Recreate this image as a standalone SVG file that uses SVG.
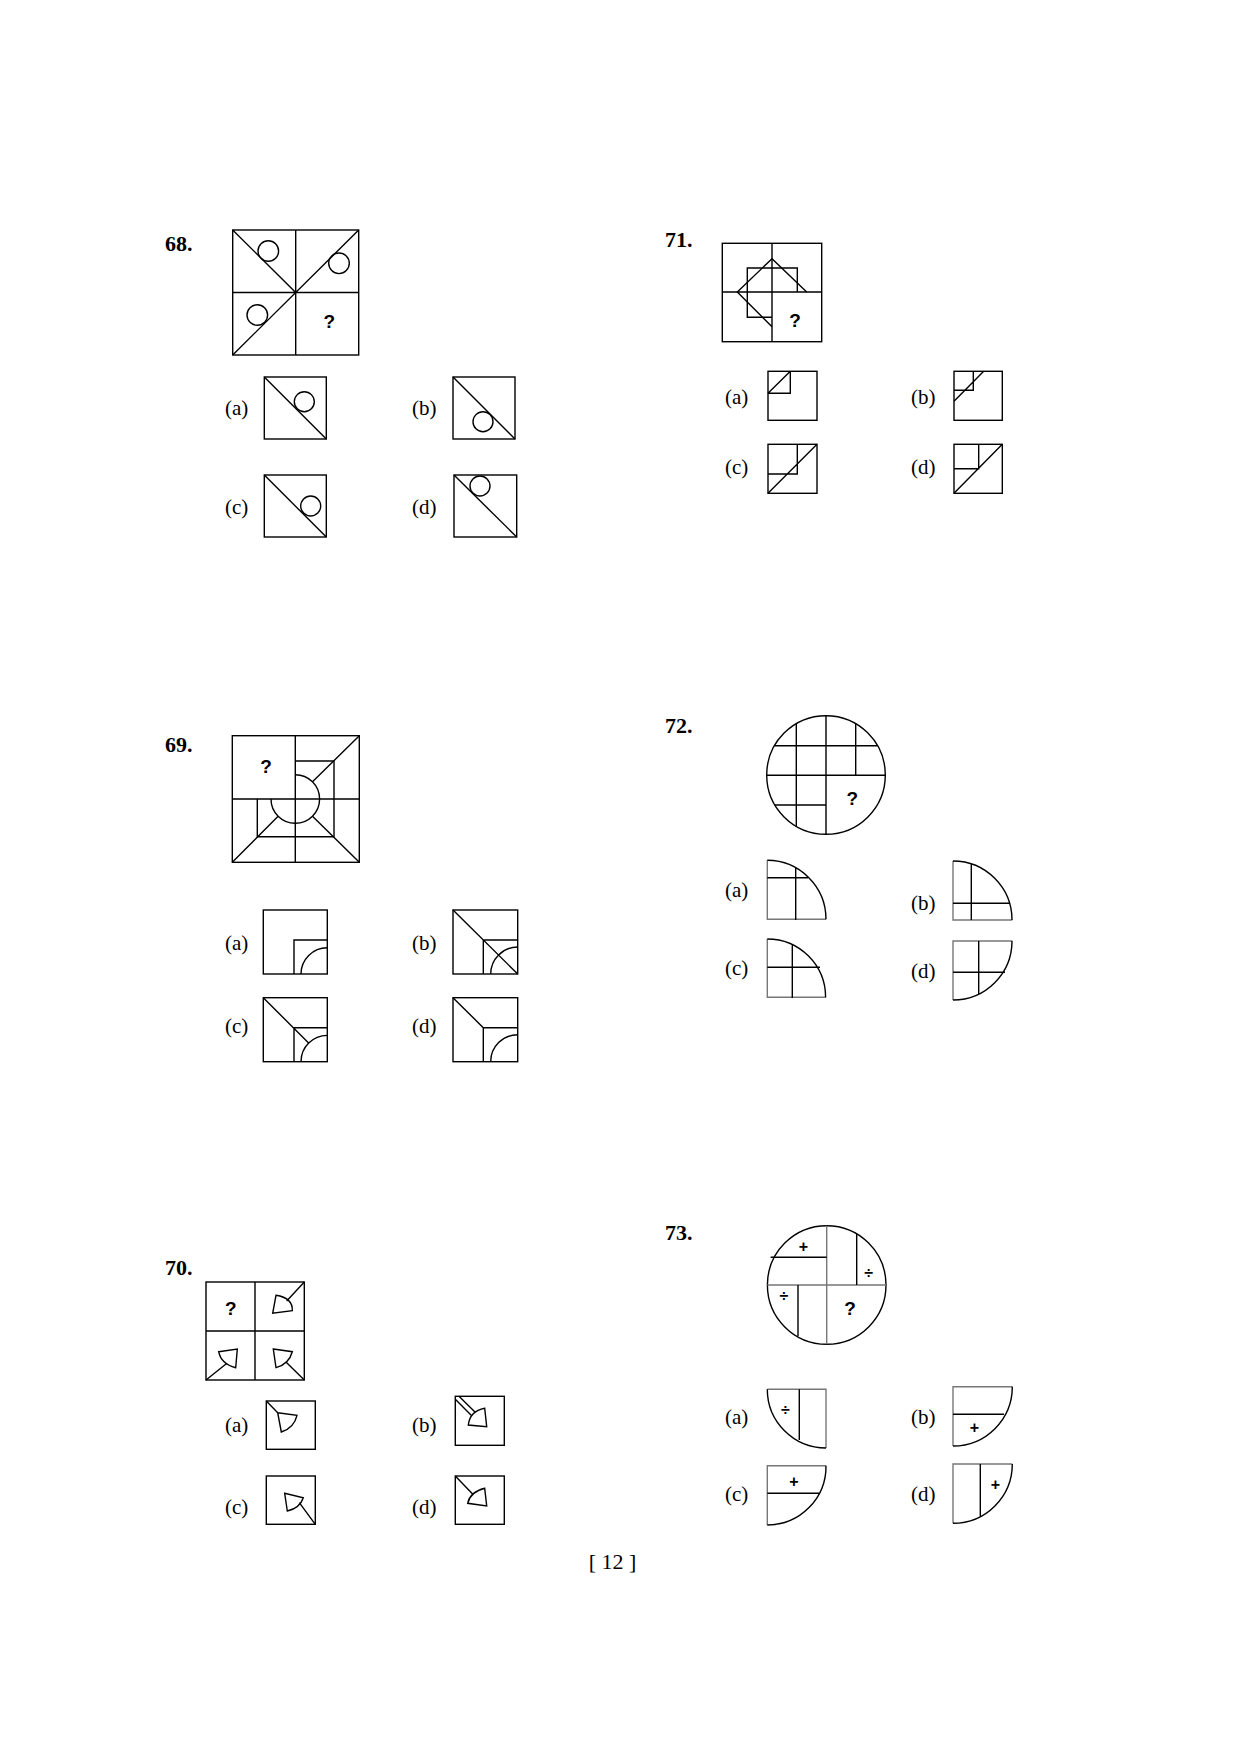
<svg xmlns="http://www.w3.org/2000/svg" width="1240" height="1755" viewBox="0 0 1240 1755">
<style>
.s{fill:none;stroke:#000;stroke-width:1.4}
.g{fill:none;stroke:#777;stroke-width:1.4}
.n{font-family:"Liberation Serif",serif;font-weight:bold;font-size:22px}
.l{font-family:"Liberation Serif",serif;font-size:21px}
.q{font-family:"Liberation Sans",sans-serif;font-weight:bold;font-size:19px;text-anchor:middle}
.m{font-family:"Liberation Sans",sans-serif;font-weight:bold;font-size:16px;text-anchor:middle}
</style>
<rect width="1240" height="1755" fill="#fff"/>

<g id="q68">
<text class="n" x="165" y="251">68.</text>
<rect class="s" x="232.7" y="230" width="126" height="125"/>
<path class="s" d="M295.7,230V355M232.7,292.5H358.7M232.7,230L295.7,292.5M232.7,355L358.7,230"/>
<circle class="s" cx="268.3" cy="251" r="10.3"/>
<circle class="s" cx="339" cy="263.3" r="10.3"/>
<circle class="s" cx="257.3" cy="315" r="10.3"/>
<text class="q" x="329.3" y="328">?</text>
<text class="l" x="225" y="415">(a)</text>
<rect class="s" x="264.3" y="377" width="62" height="62"/><path class="s" d="M264.3,377L326.3,439"/><circle class="s" cx="304.3" cy="401.7" r="10"/>
<text class="l" x="412" y="415">(b)</text>
<rect class="s" x="453" y="377" width="62" height="62"/><path class="s" d="M453,377L515,439"/><circle class="s" cx="483" cy="421.7" r="10"/>
<text class="l" x="225" y="514">(c)</text>
<rect class="s" x="264.3" y="475" width="62" height="62"/><path class="s" d="M264.3,475L326.3,537"/><circle class="s" cx="310.7" cy="506" r="10"/>
<text class="l" x="412" y="514">(d)</text>
<rect class="s" x="454" y="475" width="62.7" height="62"/><path class="s" d="M454,475L516.7,537"/><circle class="s" cx="480" cy="486" r="10"/>
</g>

<g id="q71">
<text class="n" x="665" y="247">71.</text>
<rect class="s" x="722.3" y="243.3" width="99.4" height="98.4"/>
<path class="s" d="M772,243.3V341.7M722.3,292H821.7"/>
<path class="s" d="M806.7,292L772,258.7L737.3,292L772,326.7"/>
<path class="s" d="M797.3,292V268H747.3V317.3H772"/>
<text class="q" x="795" y="327">?</text>
<text class="l" x="725" y="404">(a)</text>
<rect class="s" x="768" y="371.3" width="49" height="49"/><path class="s" d="M768,393.3H790.3V371.3M768,393.3L790.3,371.3"/>
<text class="l" x="911" y="404">(b)</text>
<rect class="s" x="954" y="371.3" width="48.3" height="49"/><path class="s" d="M954,390.3H973.3V371.3M954,401.3L983.7,371.3"/>
<text class="l" x="725" y="474">(c)</text>
<rect class="s" x="768" y="444.3" width="49" height="49"/><path class="s" d="M768,474H797.3V444.3M768,493.3L817,444.3"/>
<text class="l" x="911" y="474">(d)</text>
<rect class="s" x="954" y="444.3" width="48.3" height="49"/><path class="s" d="M954,468.7H978.7V444.3M954,493.3L1002.3,444.3"/>
</g>

<g id="q69">
<text class="n" x="165" y="752">69.</text>
<rect class="s" x="232.3" y="735.7" width="127" height="126.6"/>
<path class="s" d="M295.3,735.7V862.3M232.3,799H359.3"/>
<path class="s" d="M295.3,761H334V836.7H257.3V799"/>
<path class="s" d="M295.3,774.7A24.3,24.3 0 1 1 271,799"/>
<path class="s" d="M359.3,735.7L312.5,781.8M232.3,862.3L278.1,816.2M359.3,862.3L312.5,816.2"/>
<text class="q" x="266" y="773">?</text>
<text class="l" x="225" y="950">(a)</text>
<rect class="s" x="263.3" y="910" width="64" height="64"/><path class="s" d="M294,974V940H327.3M301,974A26.3,26.3 0 0 1 327.3,947.7"/>
<text class="l" x="412" y="950">(b)</text>
<rect class="s" x="453" y="910" width="64.7" height="64"/><path class="s" d="M483.3,974V940H517.7M453,910L517.7,974M490.7,974A27,27 0 0 1 517.7,947"/>
<text class="l" x="225" y="1033">(c)</text>
<rect class="s" x="263.3" y="997.7" width="64" height="64"/><path class="s" d="M294,1061.7V1027.7H327.3M263.3,997.7L308.6,1043M301,1061.7A26.3,26.3 0 0 1 327.3,1035.4"/>
<text class="l" x="412" y="1033">(d)</text>
<rect class="s" x="453" y="997.7" width="64.7" height="64"/><path class="s" d="M453,997.7L483.3,1027.7H517.7M483.3,1027.7V1061.7M490.7,1061.7A27,27 0 0 1 517.7,1034.7"/>
</g>

<g id="q72">
<text class="n" x="665" y="733">72.</text>
<circle class="s" cx="826" cy="775" r="59.3"/>
<path class="s" d="M796.3,723.7V826.3M826,715.7V834.3M855.7,723.7V775.3M774.7,745.7H877.3M766.7,775.3H885.3M774.7,805H826"/>
<text class="q" x="852.3" y="805">?</text>
<text class="l" x="725" y="897">(a)</text>
<path class="g" d="M767.3,860.3V919.3H826"/><path class="s" d="M767.3,860.3A59,59 0 0 1 826,919.3M767.3,877.7H808M795.7,867V920"/>
<text class="l" x="911" y="910">(b)</text>
<path class="g" d="M953,861V920H1012.3"/><path class="s" d="M953,861A59,59 0 0 1 1012,920M953,903.3H1009.5M971.3,864V920"/>
<text class="l" x="725" y="975">(c)</text>
<path class="g" d="M767.3,939V997.3H826"/><path class="s" d="M767.3,939A58.3,58.3 0 0 1 825.6,997.3M767.3,967.3H820M792.3,944.5V998"/>
<text class="l" x="911" y="978">(d)</text>
<path class="g" d="M1012.3,941H953V1000"/><path class="s" d="M1012,941A59,59 0 0 1 953,1000M953,972.3H1005M978.7,941V994"/>
</g>

<g id="q70">
<text class="n" x="165" y="1275">70.</text>
<rect class="s" x="206" y="1282" width="98.3" height="98"/>
<path class="s" d="M255,1282V1380M206,1331H304.3"/>
<path class="s" d="M304.3,1282L286.7,1301M276,1295.3L272.7,1313.3L292.3,1310.7Q293,1298 276,1295.3Z"/>
<path class="s" d="M206,1380L226,1364M218.7,1351.7L237.3,1349L235.7,1367.7Q221,1364 218.7,1351.7Z"/>
<path class="s" d="M304.3,1380L285.7,1361.7M273.3,1349L292.3,1351.7Q289,1364 276,1367.7Z"/>
<text class="q" x="230.7" y="1315">?</text>
<text class="l" x="225" y="1432">(a)</text>
<rect class="s" x="266.3" y="1401" width="49" height="48.3"/>
<path class="s" d="M266.3,1401L277.7,1412.7M277.7,1412.7L297,1415.3Q294,1428 281.3,1432Z"/>
<text class="l" x="412" y="1432">(b)</text>
<rect class="s" x="455.3" y="1396.3" width="49" height="49"/>
<path class="s" d="M455.3,1399.3L471.7,1415.7M459,1396.3L475.7,1412.7M484.7,1408.3L486.7,1426.7L468.3,1425Q470,1411 484.7,1408.3Z"/>
<text class="l" x="225" y="1514">(c)</text>
<rect class="s" x="266.3" y="1476" width="49" height="48.3"/>
<path class="s" d="M315.3,1524.3L299.3,1502.7M284.7,1493.3L303.3,1497.7Q300,1508 287.3,1511Z"/>
<text class="l" x="412" y="1514">(d)</text>
<rect class="s" x="455.3" y="1476" width="49" height="48.3"/>
<path class="s" d="M455.3,1476L473.3,1494.7M484.7,1488.3L486.7,1506L467.7,1503.3Q470,1492 484.7,1488.3Z"/>
</g>

<g id="q73">
<text class="n" x="665" y="1240">73.</text>
<circle class="s" cx="826.7" cy="1285" r="59.3"/>
<path class="g" d="M826.7,1225.7V1344.3M767.4,1285H886"/>
<path class="s" d="M770.6,1257.3H826.7M856.7,1233.7V1285M798,1285V1336.3"/>
<text class="m" x="803.3" y="1252">+</text>
<text class="m" x="868.7" y="1278">÷</text>
<text class="m" x="784" y="1301">÷</text>
<text class="q" x="850" y="1315">?</text>
<text class="l" x="725" y="1424">(a)</text>
<path class="g" d="M767.3,1389.3H826V1448"/><path class="s" d="M767.3,1389.3A58.7,58.7 0 0 0 826,1448M799.3,1389.3V1440"/>
<text class="m" x="785.3" y="1415">÷</text>
<text class="l" x="911" y="1424">(b)</text>
<path class="g" d="M953,1446V1386.7H1012.3"/><path class="s" d="M1012.3,1386.7A59.3,59.3 0 0 1 953,1446M953,1414.3H1004"/>
<text class="m" x="974.3" y="1433">+</text>
<text class="l" x="725" y="1501">(c)</text>
<path class="g" d="M767.3,1525V1465.7H826"/><path class="s" d="M826,1465.7A58.7,58.7 0 0 1 767.3,1525M767.3,1493.3H819"/>
<text class="m" x="794" y="1487">+</text>
<text class="l" x="911" y="1501">(d)</text>
<path class="g" d="M953,1523.3V1464H1012.3"/><path class="s" d="M1012.3,1464A59.3,59.3 0 0 1 953,1523.3M980.3,1464V1517"/>
<text class="m" x="995.3" y="1490">+</text>
</g>

<text class="l" x="612.5" y="1569" text-anchor="middle" style="font-size:22px">[ 12 ]</text>
</svg>
